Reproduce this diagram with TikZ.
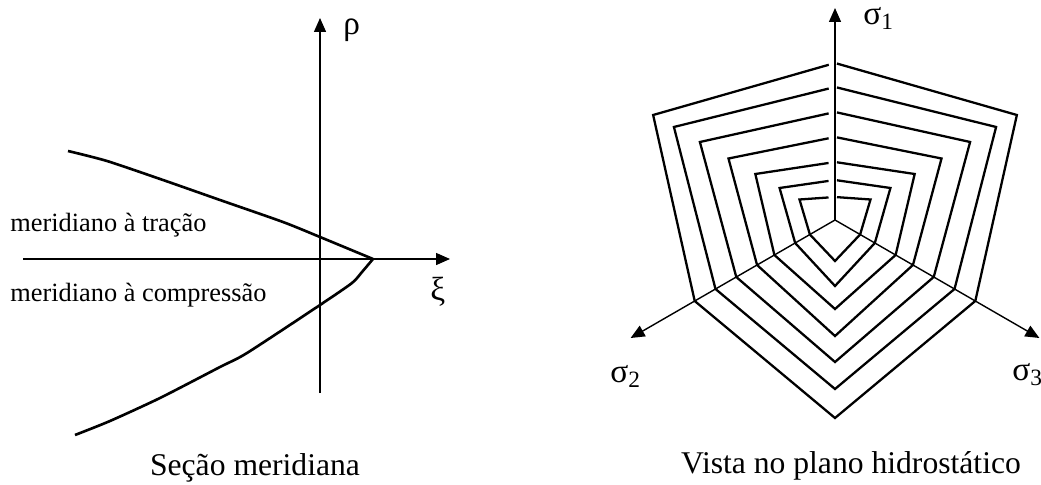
\documentclass[tikz,border=0pt]{standalone}
\usepackage{fontspec}
\setmainfont{Liberation Serif}
\usetikzlibrary{arrows.meta,calc}
\tikzset{
  eixo/.style={line width=0.8pt,->},
  curva/.style={line width=1.5pt,line join=round},
  anel/.style={line width=1.3pt},
  rotulo/.style={font=\fontsize{15}{18}\selectfont,anchor=base west,inner sep=0pt},
  grego/.style={font=\fontsize{19}{22}\selectfont,anchor=base west,inner sep=0pt},
  titulo/.style={font=\fontsize{18}{22}\selectfont,anchor=base,inner sep=0pt}
}
\begin{document}
\begin{tikzpicture}[x=0.02cm,y=0.02cm,>={Triangle[length=0.28cm,width=0.24cm]}]
\useasboundingbox (0,0) rectangle (1041,484);

\coordinate (xi0) at (23,225);
\coordinate (xi1) at (450,225);
\coordinate (rho0) at (320,91);
\coordinate (rho1) at (320,466);
\draw[eixo] (xi0) -- (xi1);
\draw[eixo] (rho0) -- (rho1);
\node[grego] (rho) at (343,449) {ρ};
\node[grego] (xi) at (430,184) {ξ};

\draw[curva] plot[smooth,tension=0.4] coordinates {(68,333) (107,323) (163,304) (220,284) (283,262) (320,247) (373,225)};
\draw[curva] plot[smooth,tension=0.4] coordinates {(373,225) (362,212) (352,201) (320,179) (247,131) (220,117) (160,86) (110,63) (75,49)};
\node[rotulo] (tracao) at (10,253) {meridiano à tração};
\node[rotulo] (compressao) at (10,183) {meridiano à compressão};
\node[titulo] (secao) at (255,9) {Seção meridiana};

\coordinate (c) at (835,264);
\foreach \rt/\rc/\ra/\rb in {157/210/162/198,133/186/138/169,108/156/114/142,
  83/123/90/116,58/92/70/89,40/64/46/66,23/41/29/41}{
  \coordinate (T) at ($(c)+(90:\rt)$);
  \coordinate (UL) at ($(c)+(150:\rc)$);
  \coordinate (S2) at ($(c)+(210:\ra)$);
  \coordinate (B) at ($(c)+(270:\rb)$);
  \coordinate (S3) at ($(c)+(330:\ra)$);
  \coordinate (UR) at ($(c)+(30:\rc)$);
  \draw[anel] ($(T)!0.04cm!(UR)$) -- (UR) -- (S3) -- (B) -- (S2) -- (UL) -- ($(T)!0.13cm!(UL)$);
}
\coordinate (s1) at ($(c)+(90:212)$);
\coordinate (s2) at ($(c)+(210:236)$);
\coordinate (s3) at ($(c)+(330:236)$);
\draw[eixo] (c) -- (s1);
\draw[eixo] (c) -- (s2);
\draw[eixo] (c) -- (s3);
\node[grego] (sig1) at (863,459) {σ\textsubscript{1}};
\node[grego] (sig2) at (610,102) {σ\textsubscript{2}};
\node[grego] (sig3) at (1012,104) {σ\textsubscript{3}};
\node[titulo] (vista) at (851,11) {Vista no plano hidrostático};
\end{tikzpicture}
\end{document}
